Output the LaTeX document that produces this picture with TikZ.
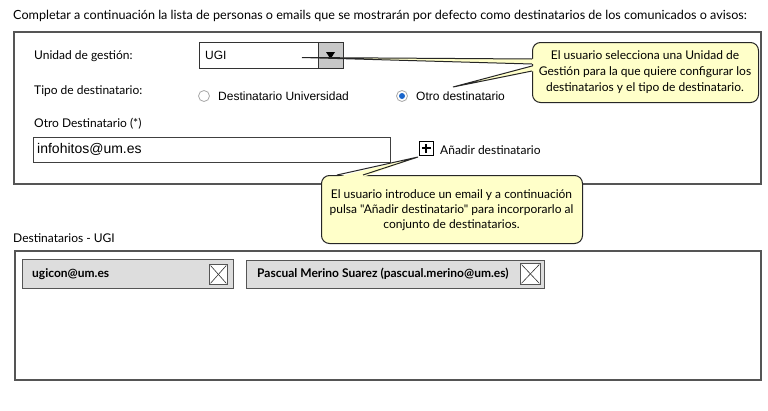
\documentclass[tikz,border=0pt]{standalone}
\usepackage{fontspec}
\setmainfont{Lato}[Ligatures=TeXOff]
\newfontfamily\arial{Liberation Sans}
\definecolor{callfill}{HTML}{FFFFC9}
\definecolor{chipfill}{HTML}{DDDDDD}
\definecolor{btnfill}{HTML}{C8C8C8}
\definecolor{panelline}{HTML}{555555}
\definecolor{radioblue}{HTML}{1A66CC}
\definecolor{radioline}{HTML}{A8A8A8}
\begin{document}
\begin{tikzpicture}[x=1pt,y=-1pt,
  lbl/.style={anchor=west,inner sep=0pt,font=\fontsize{12}{14}\selectfont},
  albl/.style={anchor=west,inner sep=0pt,font=\arial\fontsize{12}{14}\selectfont},
  panelbox/.style={draw=panelline,line width=1.5pt,anchor=north west,inner sep=0pt},
  chipbox/.style={draw=panelline,fill=chipfill,line width=1.2pt,anchor=north west,inner sep=0pt},
  xbox/.style={draw=panelline,fill=white,line width=0.8pt,anchor=north west,inner sep=0pt},
  callbox/.style={draw=black!85,fill=callfill,line width=1pt,rounded corners=8pt,anchor=north west,inner sep=0pt},
  calltext/.style={align=center,inner sep=0pt,font=\fontsize{12}{16}\selectfont},
  radio/.style={circle,draw=radioline,fill=white,minimum size=11pt,inner sep=0pt,line width=0.8pt}]
\useasboundingbox (0,0) rectangle (768,410);
\fill[white] (0,0) rectangle (768,410);

% title
\node[lbl,font=\fontsize{12.6}{15}\selectfont] (title) at (13,16) {Completar a continuación la lista de personas o emails que se mostrarán por defecto como destinatarios de los comunicados o avisos:};

% top panel
\node[panelbox,minimum width=747pt,minimum height=152pt] (panel1) at (13,31) {};

\node[lbl] (lunidad) at (34,56) {Unidad de gestión:};
\node[lbl] (ltipo) at (34,91) {Tipo de destinatario:};
\node[lbl] (lotro) at (34,124) {Otro Destinatario (*)};

% combo
\node[draw=black!80,fill=white,line width=0.8pt,anchor=north west,inner sep=0pt,minimum width=144pt,minimum height=26pt] (combo) at (199,42) {};
\node[draw=black!80,fill=btnfill,line width=0.8pt,anchor=north west,inner sep=0pt,minimum width=25pt,minimum height=26pt] (combobtn) at (318,42) {};
\fill[black] (326,52) -- (335,52) -- (330.5,59) -- cycle;
\node[albl] (ugi) at (205,55.5) {UGI};

% radios
\node[radio] (r1) at (204,96) {};
\node[albl] (r1t) at (218,96) {Destinatario Universidad};
\node[radio] (r2) at (402,96) {};
\fill[radioblue] (r2.center) circle (3pt);
\node[albl] (r2t) at (416,96) {Otro destinatario};

% text field
\node[draw=black!75,fill=white,line width=1pt,anchor=north west,inner sep=0pt,minimum width=357pt,minimum height=25pt] (field) at (33,137) {};
\node[albl,font=\arial\fontsize{14}{16}\selectfont] (fieldt) at (37,149.5) {infohitos@um.es};

% add button
\node[draw=black,line width=1.5pt,anchor=north west,inner sep=0pt,minimum size=14pt] (plus) at (418.5,140.5) {};
\draw[line width=2pt] ([xshift=-4.5pt]plus.center) -- ([xshift=4.5pt]plus.center);
\draw[line width=2pt] ([yshift=-4.5pt]plus.center) -- ([yshift=4.5pt]plus.center);
\node[lbl] (plust) at (440,150) {Añadir destinatario};

% bottom panel
\node[lbl] (ldest) at (13,238) {Destinatarios - UGI};
\node[panelbox,minimum width=746pt,minimum height=129pt] (panel2) at (14,250) {};

% chip 1
\node[chipbox,minimum width=211pt,minimum height=29pt] (chip1) at (22,259) {};
\node[lbl,font=\bfseries\fontsize{12}{14}\selectfont] (chip1t) at (32,274) {ugicon@um.es};
\node[xbox,minimum width=18pt,minimum height=20pt] (x1) at (209,264) {};
\draw[black!80,line width=0.6pt] ([shift={(1.5pt,-1.5pt)}]x1.north west) -- ([shift={(-1.5pt,1.5pt)}]x1.south east);
\draw[black!80,line width=0.6pt] ([shift={(-1.5pt,-1.5pt)}]x1.north east) -- ([shift={(1.5pt,1.5pt)}]x1.south west);

% chip 2
\node[chipbox,minimum width=298pt,minimum height=28pt] (chip2) at (246,260) {};
\node[lbl,font=\bfseries\fontsize{12}{14}\selectfont] (chip2t) at (257,274) {Pascual Merino Suarez (pascual.merino@um.es)};
\node[xbox,minimum width=20pt,minimum height=21pt] (x2) at (520,263) {};
\draw[black!80,line width=0.6pt] ([shift={(1.5pt,-1.5pt)}]x2.north west) -- ([shift={(-1.5pt,1.5pt)}]x2.south east);
\draw[black!80,line width=0.6pt] ([shift={(-1.5pt,-1.5pt)}]x2.north east) -- ([shift={(1.5pt,1.5pt)}]x2.south west);

% callout 1
\coordinate (tip1) at (302,57.5);
\coordinate (tip2) at (453,87);
\node[callbox,minimum width=226pt,minimum height=60pt] (call1) at (532,42) {};
\fill[callfill] (tip1) -- (534,59) -- (534,64) -- cycle;
\fill[callfill] (tip2) -- (534,66) -- (534,71) -- cycle;
\draw[black!85,line width=1pt] (532,59) -- (tip1) -- (532,64);
\draw[black!85,line width=1pt] (532,66) -- (tip2) -- (532,71);
\node[calltext] (call1t) at (645,72.5) {El usuario selecciona una Unidad de\\Gestión para la que quiere configurar los\\destinatarios y el tipo de destinatario.};

% callout 2
\coordinate (tip3) at (418,157);
\node[callbox,minimum width=261pt,minimum height=68pt] (call2) at (321,175) {};
\fill[callfill] (tip3) -- (337,177) -- (363,177) -- cycle;
\draw[black!85,line width=1pt] (337,175) -- (tip3) -- (363,175);
\node[calltext,font=\fontsize{12}{15}\selectfont] (call2t) at (451.5,210.5) {El usuario introduce un email y a continuación\\pulsa "Añadir destinatario" para incorporarlo al\\conjunto de destinatarios.};
\end{tikzpicture}
\end{document}
